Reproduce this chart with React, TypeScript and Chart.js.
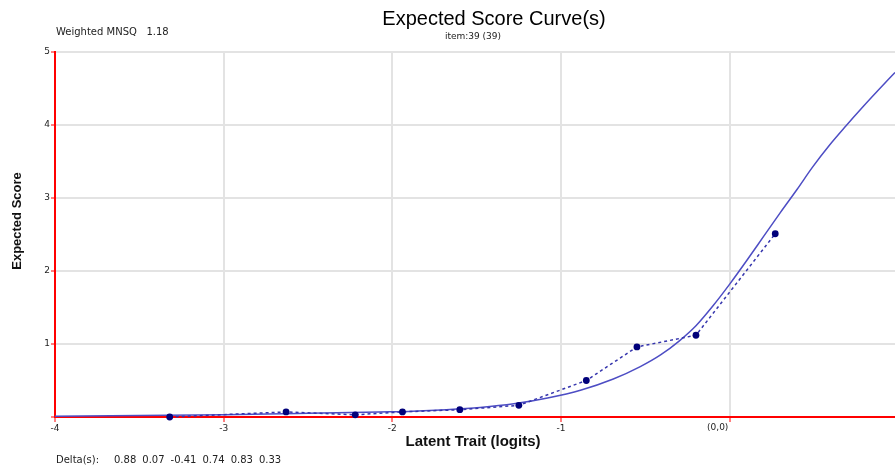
import React, { useEffect, useRef } from "react";
import { Chart, registerables } from "chart.js";

Chart.register(...registerables);

const xTickValues = [-4, -3, -2, -1, 0];
const xTickLabels = ["-4", "-3", "-2", "-1", "(0,0)"];
const yTickValues = [0, 1, 2, 3, 4, 5];
const yTickLabels = ["", "1", "2", "3", "4", "5"];

const observedX = [-3.32, -2.63, -2.22, -1.94, -1.6, -1.25, -0.85, -0.55, -0.2, 0.27];
const observedY = [0.0, 0.07, 0.03, 0.07, 0.1, 0.16, 0.5, 0.96, 1.12, 2.51];

const curveX = [-4, -3.5, -3, -2.5, -2.08, -1.88, -1.68, -1.48, -1.28, -1.08, -0.88, -0.69, -0.53, -0.41, -0.3, -0.2, -0.1, 0, 0.1, 0.2, 0.3, 0.4, 0.49, 0.59, 0.69, 0.79, 0.89, 0.98];
const curveY = [0.01, 0.02, 0.03, 0.05, 0.07, 0.08, 0.1, 0.13, 0.18, 0.26, 0.37, 0.52, 0.69, 0.85, 1.04, 1.25, 1.52, 1.82, 2.14, 2.47, 2.8, 3.12, 3.42, 3.72, 3.99, 4.25, 4.5, 4.72];

const titleText = "Expected Score Curve(s)";
const subtitleText = "item:39 (39)";
const fitText = "Weighted MNSQ   1.18";
const deltaLabel = "Delta(s):";
const deltaValues = ["0.88", "0.07", "-0.41", "0.74", "0.83", "0.33"];
const xAxisTitle = "Latent Trait (logits)";
const yAxisTitle = "Expected Score";

const SMALL = '10px "DejaVu Sans", sans-serif';

const textPlugin = {
  id: "texts",
  afterDraw(chart: any) {
    const ctx = chart.ctx;
    const xs = chart.scales.x;
    ctx.save();
    ctx.fillStyle = "#000";
    ctx.textBaseline = "middle";
    ctx.textAlign = "center";
    ctx.font = '20px "Liberation Sans", Arial, sans-serif';
    ctx.fillText(titleText, 494, 19);
    ctx.font = '9px "DejaVu Sans", sans-serif';
    ctx.fillStyle = "#222";
    ctx.fillText(subtitleText, 473, 37);
    ctx.textAlign = "left";
    ctx.font = SMALL;
    ctx.fillText(fitText, 56, 32);
    ctx.fillText(deltaLabel, 56, 460);
    let x = 114;
    deltaValues.forEach((v) => {
      const w = ctx.measureText(v).width;
      ctx.fillText(v, x, 460);
      x += w + 6;
    });
    ctx.textAlign = "center";
    ctx.font = '9px "DejaVu Sans", sans-serif';
    ctx.fillText(xTickLabels[4], xs.getPixelForValue(0) - 12, 428);
    ctx.fillStyle = "#111";
    ctx.font = 'bold 15px "Liberation Sans", Arial, sans-serif';
    ctx.fillText(xAxisTitle, 473, 442);
    ctx.translate(17, 221);
    ctx.rotate(-Math.PI / 2);
    ctx.font = 'bold 13px "Liberation Sans", Arial, sans-serif';
    ctx.fillText(yAxisTitle, 0, 0);
    ctx.restore();
  },
};

export default function App() {
  const ref = useRef<HTMLCanvasElement | null>(null);
  useEffect(() => {
    if (!ref.current) return;
    const chart = new Chart(ref.current, {
      type: "scatter",
      data: {
        datasets: [
          {
            label: "observed",
            data: observedX.map((x, i) => ({ x, y: observedY[i] })),
            showLine: true,
            borderColor: "#3535ad",
            borderWidth: 1.5,
            borderDash: [3, 3],
            pointRadius: 3.4,
            pointBackgroundColor: "#00007a",
            pointBorderWidth: 0,
            order: 0,
            clip: false,
          } as any,
          {
            label: "model",
            data: curveX.map((x, i) => ({ x, y: curveY[i] })),
            showLine: true,
            borderColor: "#4d4dc4",
            borderWidth: 1.5,
            pointRadius: 0,
            cubicInterpolationMode: "monotone",
            order: 1,
            clip: false,
          } as any,
        ],
      },
      options: {
        responsive: false,
        animation: false,
        devicePixelRatio: 1,
        layout: { padding: { top: 52, left: 0, right: 0, bottom: 0 } },
        plugins: {
          legend: { display: false },
          title: { display: false },
          tooltip: { enabled: false },
        },
        scales: {
          x: {
            type: "linear",
            min: -4,
            max: 0.98,
            afterBuildTicks: (s: any) => {
              s.ticks = xTickValues.map((v) => ({ value: v }));
            },
            afterFit: (s: any) => {
              s.height = 52;
              s.paddingRight = 0;
              s.paddingLeft = 0;
            },
            grid: {
              color: "#e3e3e3",
              lineWidth: 2,
              tickColor: "#ff0000",
              tickLength: 5,
              tickWidth: 1,
            },
            border: { color: "#ff0000", width: 2 },
            ticks: {
              autoSkip: false,
              maxRotation: 0,
              padding: 1,
              color: "#222",
              font: { family: '"DejaVu Sans", sans-serif', size: 9 },
              callback: (v: any) => {
                const i = xTickValues.indexOf(Number(v));
                return i >= 0 && Number(v) !== 0 ? xTickLabels[i] : "";
              },
            },
          },
          y: {
            type: "linear",
            min: 0,
            max: 5,
            afterBuildTicks: (s: any) => {
              s.ticks = yTickValues.map((v) => ({ value: v }));
            },
            afterFit: (s: any) => {
              s.width = 55;
              s.paddingRight = 0;
              s.paddingLeft = 0;
            },
            grid: {
              color: "#e3e3e3",
              lineWidth: 2,
              tickColor: "#ff0000",
              tickLength: 4,
              tickWidth: 1,
            },
            border: { color: "#ff0000", width: 2 },
            ticks: {
              padding: 1,
              color: "#222",
              font: { family: '"DejaVu Sans", sans-serif', size: 9 },
              callback: (v: any) => {
                const i = yTickValues.indexOf(Number(v));
                return i >= 0 ? yTickLabels[i] : "";
              },
            },
          },
        },
      },
      plugins: [textPlugin],
    });
    return () => chart.destroy();
  }, []);
  return (
    <div style={{ position: "fixed", left: 0, top: 0, width: 895, height: 469, overflow: "hidden", background: "#fff" }}>
      <canvas ref={ref} width={899} height={469} style={{ width: 899, height: 469, display: "block" }} />
    </div>
  );
}
